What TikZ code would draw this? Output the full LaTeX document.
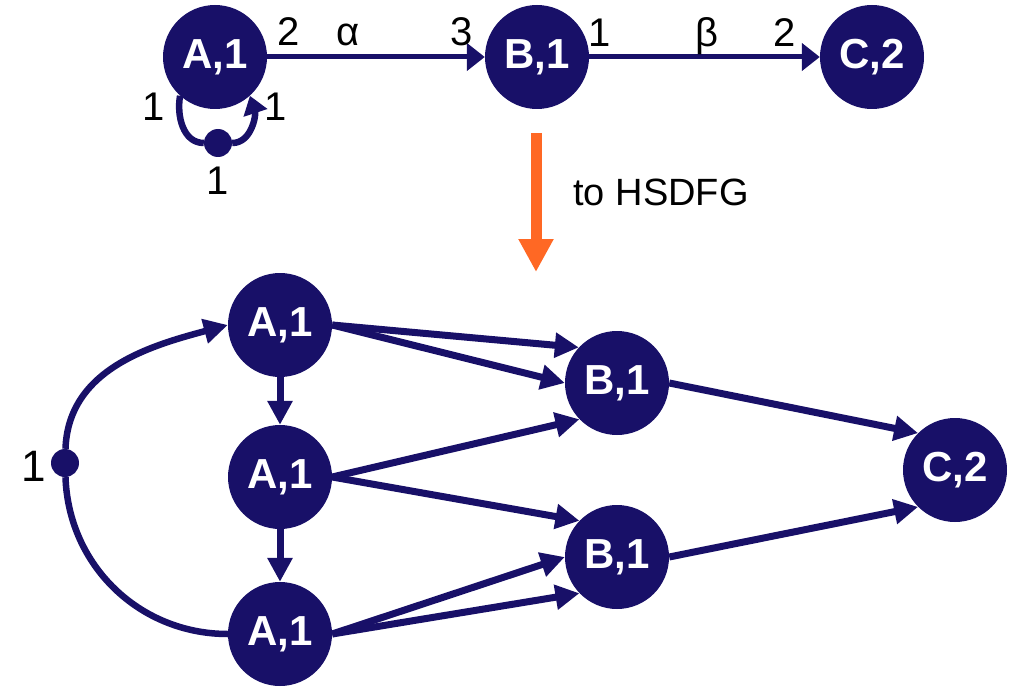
\documentclass[tikz,border=0pt]{standalone}
\usepackage{fontspec}
\setmainfont{Liberation Sans}
\usetikzlibrary{arrows.meta}
\definecolor{navy}{RGB}{24,16,104}
\definecolor{tangerine}{RGB}{255,104,36}
\begin{document}
\begin{tikzpicture}[x=1pt,y=-1pt,
  actor/.style={circle,fill=navy,minimum size=104pt,inner sep=0pt,
    text=white,font=\fontsize{42}{42}\selectfont\bfseries},
  token/.style={circle,fill=navy,minimum size=28pt,inner sep=0pt},
  rate/.style={anchor=base,inner sep=0pt,font=\fontsize{40}{40}\selectfont},
  thin edge/.style={draw=navy,line width=5pt,-{Triangle[length=18pt,width=27pt]}},
  thick edge/.style={draw=navy,line width=7pt,-{Triangle[length=24pt,width=24pt]}},
  loop edge/.style={draw=navy,line width=6.5pt},
]
\useasboundingbox (0,0) rectangle (1026,698);

% ---- multirate graph ----
\node[actor] (a) at (215,57) {A,1};
\node[actor] (b) at (537,57) {B,1};
\node[actor] (c) at (872,57) {C,2};
\node[token] (ta) at (218,143) {};

\draw[thin edge] (a.east) -- (b.west);
\draw[thin edge] (b.east) -- (c.west);
\draw[loop edge] (a.228) to[out=260,in=180] (ta);
\draw[loop edge,-{Triangle[length=18pt,width=24pt]}] (ta) to[out=0,in=-72] (a.-48);

\node[rate] at (289,46) {2};
\node[rate] at (348,46) {α};
\node[rate] at (462,46) {3};
\node[rate] at (600,47) {1};
\node[rate] at (707,47) {β};
\node[rate] at (785,47) {2};
\node[rate] at (154,121) {1};
\node[rate] at (276,121) {1};
\node[rate] at (218,194) {1};

% ---- transformation arrow ----
\coordinate (from) at (536,133);
\coordinate (to) at (536,272);
\draw[tangerine,line width=11pt,-{Triangle[length=33pt,width=33pt]}] (from) -- (to);
\node[font=\fontsize{38}{38}\selectfont] (lbl) at (661,192) {to HSDFG};

% ---- homogeneous graph ----
\node[actor] (a1) at (280,325) {A,1};
\node[actor] (a2) at (280,477) {A,1};
\node[actor] (a3) at (280,634) {A,1};
\node[actor] (b1) at (617,383) {B,1};
\node[actor] (b2) at (617,557) {B,1};
\node[actor] (c1) at (955,470) {C,2};
\node[token] (t) at (65,463) {};
\node[rate,anchor=center,font=\fontsize{44}{44}\selectfont] at (34,466) {1};

\draw[loop edge,-{Triangle[length=24pt,width=24pt]}] (t) to[out=88,in=195] (a1.west);
\draw[loop edge] (t) to[out=-88,in=180] (a3.west);

\draw[thick edge] (a1) -- (a2);
\draw[thick edge] (a2) -- (a3);
\draw[thick edge] (a1.east) -- (b1.137);
\draw[thick edge] (a1.east) -- (b1.west);
\draw[thick edge] (a2.east) -- (b1.224);
\draw[thick edge] (a2.east) -- (b2.136);
\draw[thick edge] (a3.east) -- (b2.west);
\draw[thick edge] (a3.east) -- (b2.224);
\draw[thick edge] (b1.east) -- (c1.135);
\draw[thick edge] (b2.east) -- (c1.225);
\end{tikzpicture}
\end{document}
